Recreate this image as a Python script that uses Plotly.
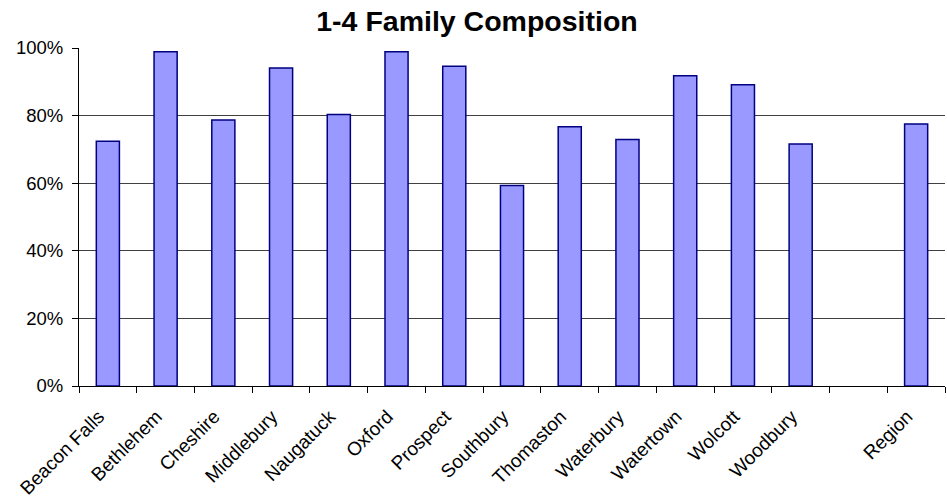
import plotly.graph_objects as go

towns = ["Beacon Falls", "Bethlehem", "Cheshire", "Middlebury", "Naugatuck", "Oxford",
         "Prospect", "Southbury", "Thomaston", "Waterbury", "Watertown", "Wolcott", "Woodbury"]
town_values = [0.724, 0.989, 0.787, 0.941, 0.803, 0.989, 0.946, 0.593, 0.767, 0.729, 0.918, 0.891, 0.716]
region_label = "Region"
region_value = 0.775
gap_label = " "

x = towns + [gap_label, region_label]
y = town_values + [None, region_value]

font_family = "Arial, Liberation Sans, sans-serif"

fig = go.Figure(go.Bar(
    x=x, y=y,
    marker=dict(color="#9999FF", line=dict(color="#000080", width=1.5)),
    hoverinfo="x+y",
))

fig.update_layout(
    width=947, height=499,
    margin=dict(l=79, r=2, t=48, b=113, autoexpand=False),
    paper_bgcolor="white", plot_bgcolor="white",
    bargap=0.6,
    showlegend=False,
    title=dict(text="<b>1-4 Family Composition</b>", x=477/947, xref="container", xanchor="center",
               y=1 - 21/499, yref="container", yanchor="middle",
               font=dict(family=font_family, size=28.5, color="black")),
    font=dict(family=font_family, color="black"),
)

fig.update_xaxes(
    type="category", categoryorder="array", categoryarray=x,
    tickangle=-45, tickfont=dict(size=19, color="black"),
    ticklabelstandoff=11, ticklabelshift=-9,
    showline=True, linecolor="black", linewidth=1,
    ticks="outside", tickson="boundaries", ticklen=6, tickcolor="black",
    showgrid=False, automargin=False,
)
fig.update_yaxes(
    range=[0, 1], tickvals=[0, 0.2, 0.4, 0.6, 0.8, 1.0], tickformat=".0%",
    tickfont=dict(size=18.5, color="black"),
    ticklabelstandoff=5,
    showline=True, linecolor="black", linewidth=1,
    ticks="outside", ticklen=6, tickcolor="black",
    showgrid=True, gridcolor="#404040", gridwidth=1,
    zeroline=False, automargin=False,
)

fig.write_html("out.html", config={"displayModeBar": False},
               post_script="document.body.style.margin='0';document.body.style.overflow='hidden';")
